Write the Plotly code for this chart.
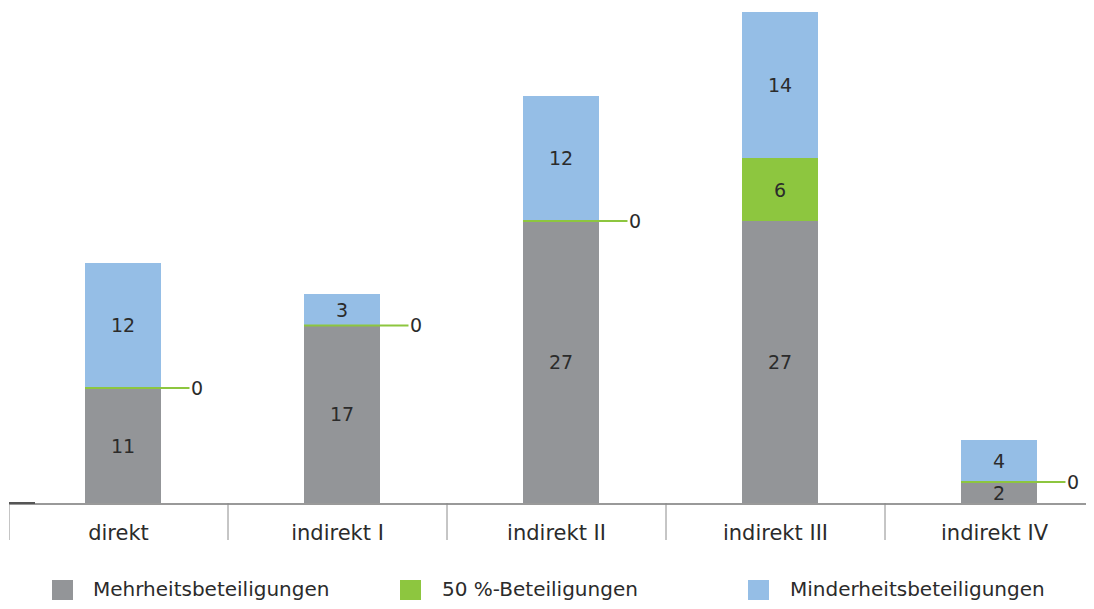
import plotly.graph_objects as go

categories = ["direkt", "indirekt I", "indirekt II", "indirekt III", "indirekt IV"]
mehrheit = [11, 17, 27, 27, 2]
fifty = [0, 0, 0, 6, 0]
minderheit = [12, 3, 12, 14, 4]
series_names = ["Mehrheitsbeteiligungen", "50 %-Beteiligungen", "Minderheitsbeteiligungen"]
colors = ["#939598", "#8dc63f", "#95bee6"]

FONT = "DejaVu Sans"
TXT = "#2b2b2b"
BW = 0.347
SHIFT = 0.0205  # bars sit slightly right of the category centre

# plot area geometry (px, within the page)
PL, PB, PW, PH = 9, 503, 1077, 491


def px_x(x):
    return (x - PL) / PW


def px_y(y):
    return (PB - y) / PH


fig = go.Figure()
for name, vals, col in zip(series_names, [mehrheit, fifty, minderheit], colors):
    fig.add_trace(go.Bar(
        x=categories, y=vals, name=name, marker_color=col, marker_line_width=0,
        width=BW, offset=-BW / 2 + SHIFT,
        text=[str(v) if v > 0 else "" for v in vals],
        textposition="inside", insidetextanchor="middle",
        textangle=0, constraintext="none",
        textfont=dict(family=FONT, size=19, color=TXT),
        showlegend=False, hoverinfo="x+y+name",
    ))

# zero-value labels with green leader lines
for i, (m, f) in enumerate(zip(mehrheit, fifty)):
    if f == 0:
        fig.add_annotation(
            x=i - BW / 2 + SHIFT, y=m + f, xref="x", yref="y",
            text="0", showarrow=True, arrowhead=0, arrowwidth=2,
            arrowcolor=colors[1], ax=112, ay=0, standoff=0,
            font=dict(family=FONT, size=19, color=TXT),
        )

# category dividers below the axis
for i in range(-1, len(categories) - 1):
    fig.add_shape(type="line", xref="x", yref="paper", x0=i + 0.5, x1=i + 0.5,
                  y0=0, y1=px_y(540), line=dict(color="#8c8c8c", width=1))

# small dark tick at left of baseline
fig.add_shape(type="line", xref="paper", yref="paper", x0=0, x1=px_x(35), y0=0, y1=0,
              line=dict(color="#555555", width=2))

# manual legend
legend_sq = [52, 400, 748]
legend_tx = [91, 440, 788]
for name, col, sx, tx in zip(series_names, colors, legend_sq, legend_tx):
    fig.add_shape(type="rect", xref="paper", yref="paper",
                  x0=px_x(sx), x1=px_x(sx + 21),
                  y0=px_y(600), y1=px_y(580),
                  fillcolor=col, line_width=0)
    fig.add_annotation(xref="paper", yref="paper", x=px_x(tx),
                       y=px_y(589), xanchor="left", yanchor="middle",
                       text=name, showarrow=False,
                       font=dict(family=FONT, size=20, color=TXT))

fig.update_layout(
    barmode="stack",
    plot_bgcolor="white", paper_bgcolor="white",
    margin=dict(l=1, r=0, t=4, b=98),
    font=dict(family=FONT, size=18, color=TXT),
    xaxis=dict(type="category", range=[-0.5, -0.5 + PW / 219],
               ticks="", showline=True, linecolor="#999999", linewidth=2,
               ticklabelstandoff=10, showgrid=False,
               tickfont=dict(family=FONT, size=21, color=TXT)),
    yaxis=dict(range=[0, 47], visible=False, showgrid=False, zeroline=False),
)

fig.write_html("out.html")
